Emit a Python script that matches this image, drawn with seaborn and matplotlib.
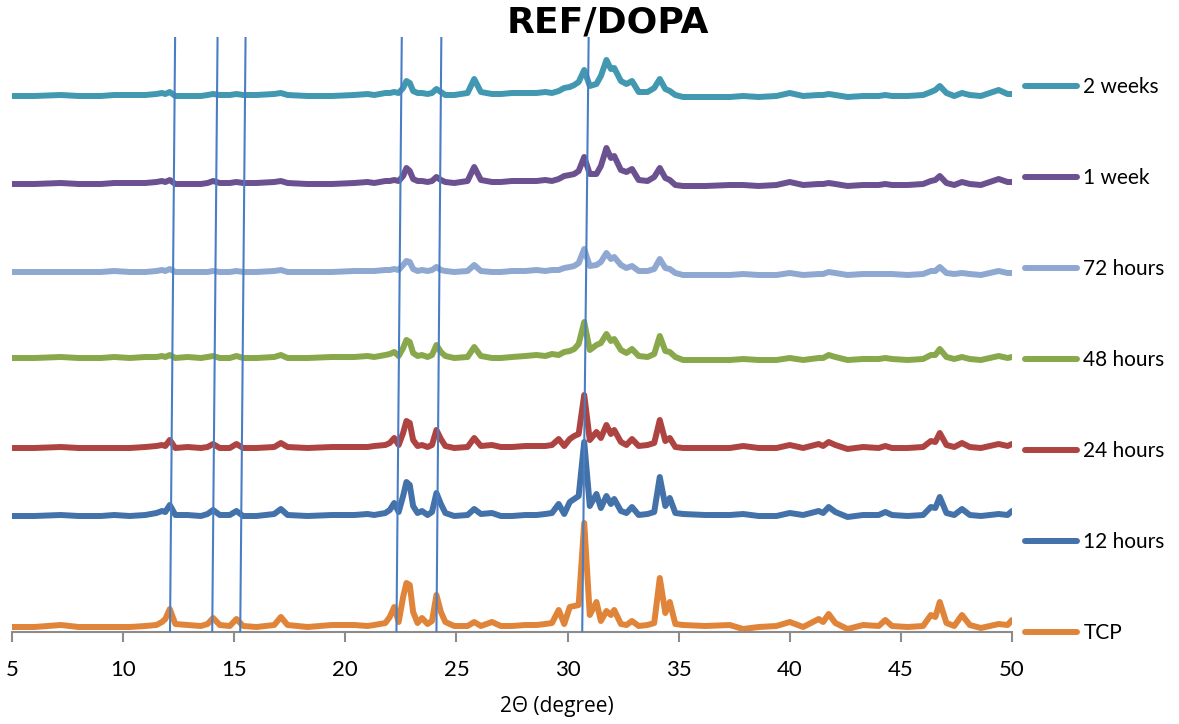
import matplotlib
matplotlib.use("Agg")
import matplotlib.pyplot as plt
import numpy as np
import pandas as pd
import seaborn as sns

# 2-theta positions (degrees) at which each pattern is sampled
two_theta = [
    5.0, 6.0, 7.2, 8.0, 9.0, 9.6, 10.3, 11.0, 11.5, 11.75,
    11.9, 12.1, 12.35, 12.9, 13.5, 13.8, 14.05, 14.35, 14.8, 15.1,
    15.4, 16.0, 16.8, 17.1, 17.4, 18.3, 19.4, 20.4, 21.0, 21.3,
    21.8, 22.0, 22.2, 22.4, 22.6, 22.75, 22.9, 23.05, 23.25, 23.45,
    23.7, 23.9, 24.1, 24.3, 24.5, 24.9, 25.5, 25.8, 26.1, 26.6,
    27.0, 27.5, 28.1, 28.6, 29.0, 29.3, 29.6, 29.85, 30.1, 30.3,
    30.5, 30.75, 31.0, 31.3, 31.5, 31.75, 31.95, 32.1, 32.4, 32.65,
    32.9, 33.2, 33.6, 33.9, 34.15, 34.4, 34.6, 34.85, 35.2, 36.2,
    37.3, 37.9, 38.6, 39.4, 40.0, 40.6, 41.3, 41.5, 41.75, 42.05,
    42.6, 43.3, 44.0, 44.3, 44.6, 45.3, 46.0, 46.35, 46.55, 46.75,
    47.05, 47.4, 47.75, 48.1, 48.6, 49.4, 49.8, 50.0,
]

# Intensities (a.u.) of each pattern above its own baseline
tcp = [
    0, 0, 2, 0, 0, 0, 0, 1, 2, 5,
    8, 18, 3, 2, 1, 3, 9, 2, 1, 8,
    1, 0, 2, 10, 2, 0, 2, 2, 1, 2,
    4, 10, 20, 5, 30, 44, 42, 15, 4, 9,
    3, 6, 32, 15, 5, 1, 1, 5, 1, 5,
    1, 1, 2, 2, 3, 4, 17, 3, 20, 21,
    22, 104, 12, 25, 6, 16, 12, 17, 3, 2,
    6, 1, 2, 4, 49, 14, 25, 3, 2, 1,
    2, -2, 0, 1, 5, 0, 8, 5, 13, 4,
    -2, 2, 1, 7, 1, 0, 1, 12, 10, 25,
    4, 1, 12, 2, -1, 3, 2, 7,
]
h12 = [
    0, 0, 1, 0, 0, 1, 0, 1, 3, 5,
    4, 11, 1, 1, 0, 2, 6, 1, 1, 5,
    0, 0, 2, 7, 1, 0, 1, 1, 2, 1,
    3, 6, 13, 4, 20, 34, 31, 10, 3, 5,
    1, 4, 23, 12, 3, 0, 1, 7, 2, 3,
    0, 0, 1, 1, 2, 3, 12, 2, 14, 17,
    20, 74, 10, 22, 8, 20, 12, 17, 5, 3,
    9, 1, 2, 4, 39, 10, 18, 3, 2, 1,
    1, 2, 0, 0, 3, 1, 5, 3, 9, 4,
    -1, 1, 1, 4, 1, 0, 1, 9, 8, 19,
    3, 1, 7, 1, 0, 2, 1, 5,
]
h24 = [
    0, 0, 1, 0, 0, 0, 0, 1, 2, 3,
    2, 8, 0, 1, 0, 1, 4, 0, 0, 4,
    0, 0, 1, 5, 1, 0, 1, 1, 1, 2,
    3, 5, 10, 3, 15, 27, 25, 8, 2, 3,
    1, 3, 18, 9, 2, 0, 1, 10, 2, 3,
    1, 1, 2, 2, 2, 3, 9, 2, 9, 12,
    14, 53, 8, 16, 10, 23, 14, 18, 6, 3,
    9, 2, 3, 5, 28, 7, 10, 1, 0, 0,
    0, 2, 0, 0, 3, 0, 4, 2, 6, 3,
    -1, 1, 0, 2, 0, 0, 1, 7, 6, 15,
    3, 1, 5, 1, 0, 4, 2, 4,
]
h48 = [
    0, 0, 1, 0, 0, 1, 0, 1, 1, 2,
    1, 3, 0, 1, 0, 1, 2, 0, 0, 2,
    0, 0, 1, 3, 0, 0, 1, 1, 2, 1,
    3, 4, 6, 2, 10, 18, 16, 5, 2, 3,
    1, 3, 13, 6, 2, 0, 1, 11, 2, 0,
    0, 1, 2, 3, 2, 4, 3, 6, 7, 9,
    14, 36, 8, 13, 15, 24, 17, 19, 8, 5,
    9, 2, 1, 4, 22, 7, 6, 1, -2, -2,
    -2, -1, -2, -2, 0, -2, 0, 0, 3, 1,
    -2, -1, -1, 0, -1, -2, -1, 3, 3, 9,
    1, -1, 1, -1, -2, 2, 0, 1,
]
h72 = [
    0, 0, 0, 0, 0, 1, 0, 0, 1, 2,
    1, 3, 0, 0, 0, 0, 1, 0, 0, 1,
    0, 0, 1, 2, 0, 0, 0, 1, 1, 1,
    2, 2, 3, 2, 7, 11, 10, 3, 1, 2,
    1, 2, 5, 2, 1, 0, 1, 7, 1, 0,
    0, 1, 1, 2, 1, 2, 2, 4, 5, 6,
    9, 23, 6, 7, 10, 19, 13, 15, 7, 4,
    6, 1, 1, 3, 13, 4, 3, -1, -3, -3,
    -3, -2, -3, -3, -1, -3, -2, -2, 0, -1,
    -3, -2, -2, -2, -2, -3, -2, 1, 1, 5,
    -1, -2, -1, -2, -3, 1, -1, -1,
]
w1 = [
    0, 0, 1, 0, 0, 1, 1, 1, 2, 3,
    2, 4, 0, 0, 0, 1, 3, 1, 1, 2,
    1, 1, 2, 3, 1, 0, 0, 1, 2, 1,
    3, 3, 4, 3, 8, 16, 13, 5, 3, 3,
    2, 3, 7, 4, 2, 1, 3, 17, 4, 2,
    2, 3, 3, 3, 4, 3, 5, 8, 9, 10,
    13, 27, 10, 10, 18, 36, 26, 28, 14, 12,
    15, 4, 3, 7, 16, 6, 4, -1, -2, -2,
    -1, -1, -2, -1, 2, -1, 0, 0, 1, 0,
    -2, -1, -1, 0, -1, -1, 0, 3, 4, 8,
    1, -1, 2, 0, -1, 5, 2, 2,
]
w2 = [
    0, 0, 1, 0, 0, 1, 1, 1, 2, 3,
    2, 4, 0, 0, 0, 1, 2, 1, 1, 2,
    1, 1, 2, 3, 1, 0, 0, 1, 2, 1,
    3, 3, 4, 3, 8, 15, 13, 5, 3, 3,
    2, 3, 7, 4, 1, 1, 3, 17, 4, 2,
    2, 3, 3, 3, 4, 3, 5, 8, 9, 11,
    14, 26, 10, 12, 20, 36, 27, 28, 15, 12,
    15, 4, 4, 8, 17, 7, 5, 1, -1, -1,
    -1, 0, -1, 0, 3, 0, 1, 1, 2, 1,
    -1, 0, 0, 1, 0, 0, 1, 4, 6, 10,
    3, 0, 3, 1, 0, 6, 2, 2,
]

series_names = ["TCP", "12 hours", "24 hours", "48 hours", "72 hours", "1 week", "2 weeks"]
series_values = [tcp, h12, h24, h48, h72, w1, w2]
# vertical stacking offset of each pattern
series_offsets = [0, 111, 179, 269, 355, 443, 531]
series_colors = ["#E0843A", "#4371AA", "#AE4441", "#88A84B", "#8EA8D2", "#6B5190", "#4298B0"]

# reference peak positions, read at the top and at the bottom of the stack
ref_top = [12.34, 14.25, 15.51, 22.54, 24.32, 30.95]
ref_bottom = [12.11, 14.01, 15.27, 22.30, 24.10, 30.66]

x_ticks = [5, 10, 15, 20, 25, 30, 35, 40, 45, 50]

frames = []
for name, vals, off in zip(series_names, series_values, series_offsets):
    frames.append(pd.DataFrame({
        "two_theta": two_theta,
        "intensity": np.asarray(vals, dtype=float) + off,
        "sample": name,
    }))
data = pd.concat(frames, ignore_index=True)

sns.set_style("white")
plt.rcParams["font.family"] = ["Lato", "DejaVu Sans"]
plt.rcParams["text.color"] = "black"

LW = 4.3

fig = plt.figure(figsize=(11.79, 7.24), dpi=100)
ax = fig.add_axes([12 / 1179, 92 / 724, 1000 / 1179, 595 / 724])

sns.lineplot(
    data=data, x="two_theta", y="intensity", hue="sample",
    hue_order=series_names, palette=dict(zip(series_names, series_colors)),
    estimator=None, sort=False, linewidth=LW, ax=ax, legend=False,
)
for line in ax.lines:
    line.set_solid_joinstyle("round")
    line.set_solid_capstyle("round")

ax.set_xlim(5, 50)
ax.set_ylim(-5, 590)

for xt, xb in zip(ref_top, ref_bottom):
    ax.plot([xb, xt], [-5, 590], color="#4A7EC4", linewidth=1.5, zorder=5)

for side in ["left", "right", "top"]:
    ax.spines[side].set_visible(False)
ax.spines["bottom"].set_color("#8C8C8C")
ax.spines["bottom"].set_linewidth(1.5)
ax.set_yticks([])
ax.set_xticks(x_ticks)
ax.set_xticklabels([str(t) for t in x_ticks])
ax.tick_params(axis="x", direction="out", length=7, width=1.5, color="#8C8C8C",
               labelsize=16, pad=13.5, labelcolor="black", bottom=True)
ax.set_xlabel("2Θ (degree)", fontsize=15, color="black",
              family=["Open Sans", "DejaVu Sans"])
ax.xaxis.set_label_coords(0.545, -0.108)
ax.set_ylabel("")

handles = [plt.Line2D([], [], color=c, linewidth=LW, solid_capstyle="round")
           for c in series_colors]
leg = fig.legend(handles[::-1], series_names[::-1], loc="upper left",
                 bbox_to_anchor=(1025 / 1179, 1 - 77 / 724), frameon=False,
                 fontsize=15, handlelength=2.5, handletextpad=0.3,
                 labelspacing=3.41, borderpad=0, borderaxespad=0,
                 labelcolor="black")

fig.text(608 / 1179, 1 - 23 / 724, "REF/DOPA", ha="center", va="center",
         fontsize=26, fontweight="bold", color="black", family=["DejaVu Sans"])

fig.savefig("out.png", dpi=100)
